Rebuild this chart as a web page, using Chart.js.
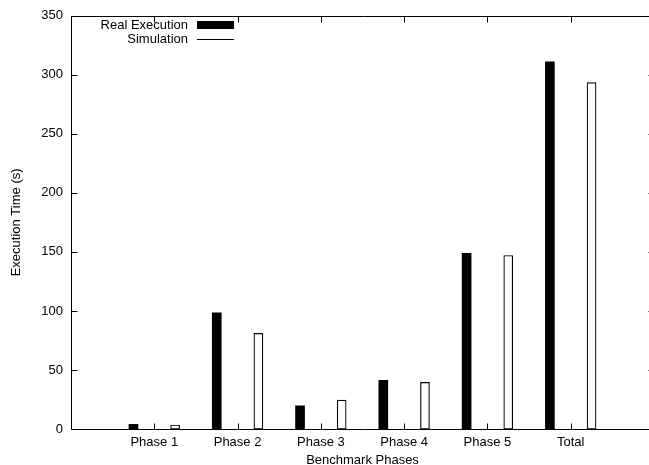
<!DOCTYPE html>
<html>
<head>
<meta charset="utf-8">
<script src="https://cdn.jsdelivr.net/npm/chart.js@4/dist/chart.umd.min.js"></script>
<style>
  html, body { margin: 0; padding: 0; background: #fff; overflow: hidden; }
  #wrap { width: 649px; height: 465px; overflow: hidden; position: relative; }
  #chart { display: block; }
</style>
</head>
<body>
<div id="wrap"><canvas id="chart" width="655" height="472"></canvas></div>
<script>
const categories = ['Phase 1', 'Phase 2', 'Phase 3', 'Phase 4', 'Phase 5', 'Total'];
const realExecution = [4, 98.4, 19.6, 41.2, 148.7, 311];
const simulation = [3.4, 81, 24.4, 39.5, 147, 293.4];
const yTicks = [0, 50, 100, 150, 200, 250, 300, 350];

const FONT = 'Liberation Sans, Arial, Helvetica, sans-serif';
const BAR_SHIFT = 0.25;

const toPoints = (values, shift) => values.map((value, index) => ({ x: index + 1 + shift, y: value }));

// gnuplot-style frame: box (right side falls off the page), inward ticks, legend top-left
const gnuplotFrame = {
  id: 'gnuplotFrame',
  afterDraw(chart) {
    const { ctx, chartArea: area, scales } = chart;
    const crisp = (v) => Math.round(v) + 0.5;
    const left = crisp(area.left);
    const right = crisp(area.right);
    const top = crisp(area.top);
    const bottom = crisp(area.bottom);

    ctx.save();
    ctx.strokeStyle = '#000';
    ctx.lineWidth = 1;
    ctx.beginPath();
    ctx.moveTo(right + 2, top);
    ctx.lineTo(left, top);
    ctx.lineTo(left, bottom);
    ctx.lineTo(right + 2, bottom);
    ctx.stroke();

    ctx.beginPath();
    yTicks.forEach((value) => {
      const y = crisp(scales.y.getPixelForValue(value));
      ctx.moveTo(left, y);
      ctx.lineTo(left + 6, y);
      ctx.moveTo(right, y);
      ctx.lineTo(right - 6, y);
    });
    categories.forEach((label, index) => {
      const x = crisp(scales.x.getPixelForValue(index + 1));
      ctx.moveTo(x, bottom);
      ctx.lineTo(x, bottom - 6);
      ctx.moveTo(x, top);
      ctx.lineTo(x, top + 6);
    });
    ctx.stroke();

    // legend: text on the left, sample on the right
    ctx.font = `13px ${FONT}`;
    ctx.fillStyle = '#000';
    ctx.textAlign = 'right';
    ctx.textBaseline = 'middle';
    const datasets = chart.data.datasets;
    ctx.fillText(datasets[0].label, 188, 25);
    ctx.fillRect(197, 21, 37, 8);
    ctx.fillText(datasets[1].label, 188, 39);
    ctx.beginPath();
    ctx.moveTo(197, 39.5);
    ctx.lineTo(234, 39.5);
    ctx.stroke();
    ctx.restore();
  }
};

new Chart(document.getElementById('chart'), {
  type: 'bar',
  data: {
    datasets: [
      {
        label: 'Real Execution',
        data: toPoints(realExecution, -BAR_SHIFT),
        backgroundColor: '#000',
        borderWidth: 0,
        barThickness: 9
      },
      {
        label: 'Simulation',
        data: toPoints(simulation, BAR_SHIFT),
        backgroundColor: '#fff',
        borderColor: '#000',
        borderWidth: 1.2,
        borderSkipped: false,
        barThickness: 9
      }
    ]
  },
  options: {
    responsive: false,
    animation: false,
    grouped: false,
    layout: { padding: { top: 13, right: 1, left: 0, bottom: 0 } },
    plugins: {
      legend: { display: false },
      tooltip: { enabled: false }
    },
    scales: {
      x: {
        type: 'linear',
        min: 0,
        max: 7,
        offset: false,
        grid: { display: false, offset: false, drawTicks: false },
        border: { display: false },
        afterBuildTicks: (scale) => {
          scale.ticks = categories.map((label, index) => ({ value: index + 1 }));
        },
        afterFit: (scale) => { scale.height = 43; },
        ticks: {
          color: '#000',
          font: { family: FONT, size: 13 },
          padding: 6,
          maxRotation: 0,
          autoSkip: false,
          callback: (value) => categories[value - 1] ?? ''
        },
        title: {
          display: true,
          text: 'Benchmark Phases',
          color: '#000',
          font: { family: FONT, size: 13 },
          padding: { top: 0, bottom: 4 }
        }
      },
      y: {
        min: 0,
        max: 350,
        grid: { display: false, drawTicks: false },
        border: { display: false },
        afterBuildTicks: (scale) => {
          scale.ticks = yTicks.map((value) => ({ value }));
        },
        afterFit: (scale) => { scale.width = 71; },
        ticks: {
          color: '#000',
          font: { family: FONT, size: 13 },
          padding: 8
        },
        title: {
          display: true,
          text: 'Execution Time (s)',
          color: '#000',
          font: { family: FONT, size: 13 },
          padding: { top: 9, bottom: 0 }
        }
      }
    }
  },
  plugins: [gnuplotFrame]
});
</script>
</body>
</html>
